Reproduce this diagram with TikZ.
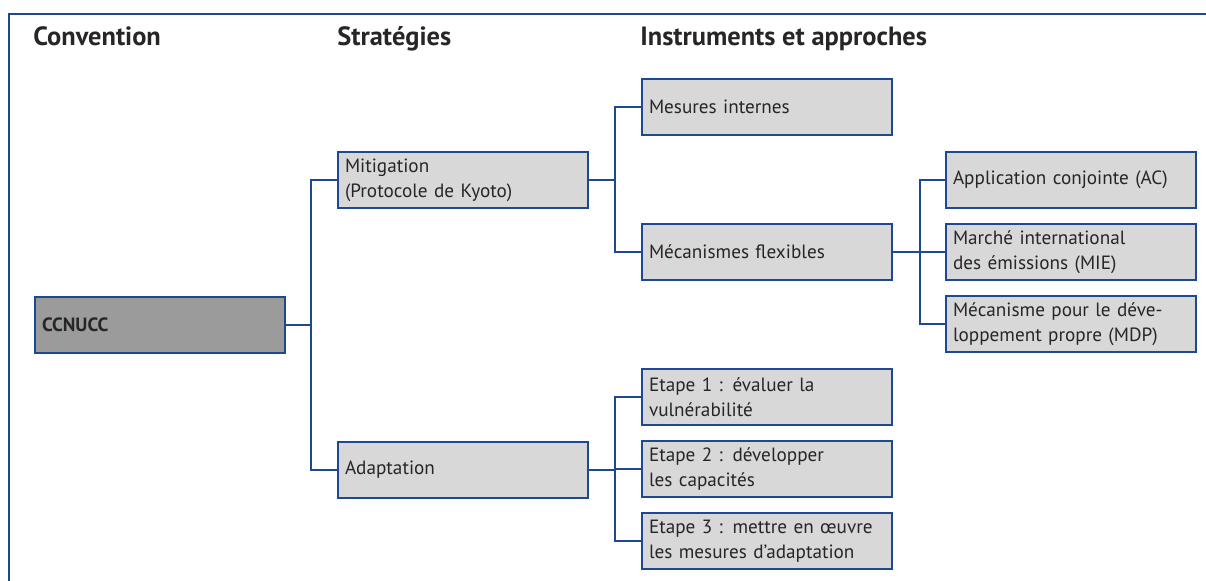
\documentclass[tikz,border=0pt]{standalone}
\usepackage{fontspec}
\setmainfont{PT Sans}
\usepackage{xcolor}
\usepackage{tikz}
\usetikzlibrary{positioning}
\definecolor{frameblue}{RGB}{30,72,148}
\definecolor{boxgray}{RGB}{216,216,216}
\definecolor{topgray}{RGB}{155,155,155}

\begin{document}
\begin{tikzpicture}[x=0.5pt, y=-0.5pt,
  block/.style={draw=frameblue, line width=1.2pt, fill=boxgray,
    text width=118pt, inner xsep=3.5pt, inner ysep=2pt,
    minimum height=28pt, align=left, text=black!85,
    font=\fontsize{9.6}{12.5}\selectfont},
  head/.style={anchor=base west, text=black!85, inner sep=0pt,
    font=\fontsize{13.2}{15}\selectfont\bfseries},
  link/.style={draw=frameblue, line width=1.2pt}
]
  \useasboundingbox (0,0) rectangle (1206,581);
  % frame (open at right and bottom)
  \draw[link] (9,581) -- (9,14) -- (1206,14);

  % column headings
  \node[head] (hconv) at (33,46) {Convention};
  \node[head] (hstrat) at (337,46) {Stratégies};
  \node[head] (hinst) at (640,46) {Instruments et approches};

  % convention
  \node[block, fill=topgray, font=\fontsize{9.6}{12.5}\selectfont\bfseries]
    (ccnucc) at (160,325) {CCNUCC};

  % strategies
  \node[block] (mitig) at (463,180) {Mitigation\\(Protocole de Kyoto)};
  \node[block] (adapt) at (463,470) {Adaptation};

  % instruments
  \node[block] (mesint) at (767,107) {Mesures internes};
  \node[block] (mecflex) at (767,252) {Mécanismes flexibles};
  \node[block] (etape1) at (767,397) {Etape 1 : évaluer la\\vulnérabilité};
  \node[block, below=6.8pt of etape1] (etape2) {Etape 2 : développer\\les capacités};
  \node[block, below=6.8pt of etape2] (etape3)
    {Etape 3 : mettre en œuvre\\les mesures d’adaptation};

  % flexible mechanisms
  \node[block] (applic) at (1071,180) {Application conjointe (AC)};
  \node[block, below=6.8pt of applic] (marche)
    {Marché international\\des émissions (MIE)};
  \node[block, below=6.8pt of marche] (mdp)
    {Mécanisme pour le déve-\\loppement propre (MDP)};

  % connectors
  \draw[link] (ccnucc.east) -- ++(25,0) |- (mitig.west);
  \draw[link] (ccnucc.east) -- ++(25,0) |- (adapt.west);
  \draw[link] (mitig.east) -- ++(26,0) |- (mesint.west);
  \draw[link] (mitig.east) -- ++(26,0) |- (mecflex.west);
  \draw[link] (mecflex.east) -- ++(27,0) |- (applic.west);
  \draw[link] (mecflex.east) -- ++(27,0) |- (marche.west);
  \draw[link] (mecflex.east) -- ++(27,0) |- (mdp.west);
  \draw[link] (adapt.east) -- ++(26,0) |- (etape1.west);
  \draw[link] (adapt.east) -- ++(26,0) |- (etape2.west);
  \draw[link] (adapt.east) -- ++(26,0) |- (etape3.west);
\end{tikzpicture}
\end{document}
